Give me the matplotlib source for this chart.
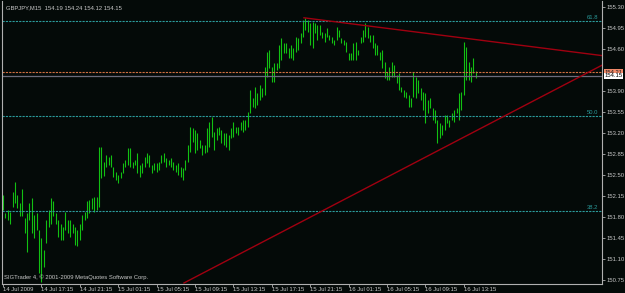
import pandas as pd
import matplotlib
matplotlib.use('Agg')
import matplotlib.pyplot as plt

# GBPJPY M15, bar chart as shown by the terminal
symbol = 'GBPJPY,M15'
last_ohlc = [154.19, 154.24, 154.12, 154.15]
ask = 154.21
first_bar = '2009-07-14 13:15'

highs = [
    152.17, 151.86, 151.92, 151.89, 152.22, 152.39, 152.17, 152.03, 152.26, 151.78,
    151.86, 152.03, 152.11, 151.83, 151.86, 151.58, 151.45, 151.25, 151.75, 151.92,
    152.11, 152.06, 151.86, 151.75, 151.69, 151.64, 151.89, 151.75, 151.75, 151.69,
    151.64, 151.58, 151.69, 151.83, 151.89, 152.06, 152.08, 152.11, 152.14, 152.14,
    152.97, 152.97, 152.72, 152.83, 152.80, 152.83, 152.63, 152.55, 152.50, 152.55,
    152.70, 152.75, 152.95, 152.95, 152.72, 152.75, 152.87, 152.67, 152.70, 152.80,
    152.87, 152.83, 152.67, 152.70, 152.70, 152.72, 152.83, 152.87, 152.78, 152.75,
    152.78, 152.72, 152.67, 152.70, 152.63, 152.62, 152.75, 153.00, 153.30, 153.28,
    153.25, 153.20, 153.08, 153.00, 153.00, 153.28, 153.38, 153.47, 153.22, 153.28,
    153.30, 153.25, 153.20, 153.20, 153.17, 153.28, 153.38, 153.30, 153.30, 153.38,
    153.42, 153.42, 153.55, 153.92, 153.78, 153.97, 153.87, 154.00, 153.95, 154.30,
    154.55, 154.58, 154.30, 154.37, 154.37, 154.67, 154.78, 154.70, 154.70, 154.62,
    154.67, 154.62, 154.80, 154.78, 154.87, 155.08, 155.12, 155.08, 155.03, 155.05,
    155.03, 155.00, 155.00, 154.88, 154.87, 154.95, 154.83, 154.80, 154.75, 154.97,
    154.92, 154.78, 154.75, 154.72, 154.53, 154.53, 154.70, 154.72, 154.58, 154.80,
    154.92, 155.03, 154.97, 154.83, 154.83, 154.70, 154.67, 154.55, 154.58,
    154.38, 154.22, 154.30, 154.38, 154.33, 154.17, 154.20, 153.97, 153.92, 153.88,
    153.83, 153.78, 154.22, 154.13, 154.08, 153.95, 153.88, 153.87, 153.75, 153.78,
    153.62, 153.58, 153.42, 153.37, 153.33, 153.50, 153.50, 153.42, 153.53, 153.58,
    153.62, 153.87, 153.88, 154.72, 154.63, 154.38, 154.30, 154.45, 154.24,
]
lows = [
    151.92, 151.78, 151.75, 151.69, 151.97, 152.03, 151.95, 151.81, 151.81, 151.53,
    151.22, 151.75, 151.53, 151.45, 151.58, 150.86, 150.72, 150.97, 151.36, 151.64,
    151.69, 151.81, 151.69, 151.47, 151.42, 151.42, 151.58, 151.53, 151.47, 151.53,
    151.33, 151.31, 151.42, 151.58, 151.75, 151.78, 151.86, 151.94, 151.89, 151.92,
    151.97, 152.45, 152.48, 152.63, 152.67, 152.63, 152.47, 152.42, 152.37, 152.45,
    152.53, 152.63, 152.67, 152.63, 152.62, 152.67, 152.53, 152.47, 152.53, 152.63,
    152.70, 152.63, 152.53, 152.58, 152.55, 152.58, 152.70, 152.72, 152.63, 152.67,
    152.63, 152.58, 152.55, 152.50, 152.47, 152.42, 152.58, 152.72, 152.88, 153.05,
    152.87, 152.92, 152.95, 152.83, 152.87, 152.88, 152.97, 153.13, 152.92, 153.08,
    153.17, 153.03, 153.00, 152.97, 152.92, 153.12, 153.13, 153.20, 153.17, 153.25,
    153.22, 153.25, 153.30, 153.53, 153.63, 153.62, 153.67, 153.75, 153.80, 153.83,
    154.13, 154.28, 154.05, 154.05, 154.25, 154.28, 154.42, 154.53, 154.53, 154.45,
    154.45, 154.42, 154.55, 154.58, 154.70, 154.80, 154.92, 154.88, 154.67, 154.62,
    154.87, 154.75, 154.83, 154.78, 154.72, 154.80, 154.75, 154.70, 154.67, 154.75,
    154.80, 154.70, 154.67, 154.55, 154.42, 154.42, 154.42, 154.42, 154.50, 154.70,
    154.72, 154.80, 154.78, 154.72, 154.62, 154.50, 154.50, 154.42, 154.28,
    154.12, 154.08, 154.08, 154.13, 154.13, 154.03, 153.92, 153.88, 153.80, 153.78,
    153.63, 153.63, 153.80, 153.78, 153.87, 153.75, 153.58, 153.37, 153.53, 153.62,
    153.42, 153.37, 153.03, 153.12, 153.17, 153.25, 153.37, 153.30, 153.42, 153.38,
    153.53, 153.42, 153.58, 153.83, 154.08, 154.08, 154.05, 154.20, 154.12,
]

fib_levels = ['61.8', '50.0', '38.2']
fib_prices = [155.07, 153.48, 151.90]

# trend lines: (bar index, price) anchors
upper_line = [(125.4, 155.12), (249.6, 154.49)]
lower_line = [(75.4, 150.70), (249.6, 154.33)]

price_ticks = [155.30, 154.95, 154.60, 153.90, 153.55, 153.20, 152.85,
               152.50, 152.15, 151.80, 151.45, 151.10, 150.75]

bg = '#040a08'
fg = '#c8c8c8'
fib_col = '#2a9a9a'
font = ['Liberation Sans', 'DejaVu Sans']
fs = 4.2

times = pd.date_range(first_bar, periods=len(highs), freq='15min')
idx = list(range(len(highs)))

fig = plt.figure(figsize=(6.25, 2.93), dpi=100, facecolor=bg)
ax = fig.add_axes([2 / 625, 9 / 293, 600 / 625, 283 / 293], facecolor=bg)

ax.vlines(idx, lows, highs, color='#12c012', lw=0.8)

for lvl, p in zip(fib_levels, fib_prices):
    ax.axhline(p, color=fib_col, lw=0.8, ls=(0, (2, 1)))
    ax.text(0.993, p + 0.015, lvl, transform=ax.get_yaxis_transform(),
            ha='right', va='bottom', color=fib_col, fontsize=fs, family=font)

ax.axhline(last_ohlc[3], color='#6c6c7c', lw=0.9)
ax.axhline(ask, color='#d07040', lw=0.8, ls=(0, (2, 1)))

for line in (upper_line, lower_line):
    xs = [pt[0] for pt in line]
    ys = [pt[1] for pt in line]
    ax.plot(xs, ys, color='#a00010', lw=1.0, clip_on=True)

ax.set_xlim(-0.42, 249.6)
ax.set_ylim(150.683, 155.40)

# axes styling
for side in ('left', 'bottom', 'right'):
    ax.spines[side].set_color('#b0b0b0')
    ax.spines[side].set_linewidth(0.8)
ax.spines['top'].set_visible(False)

ax.yaxis.tick_right()
ax.set_yticks(price_ticks)
ax.set_yticklabels([f'{p:.2f}' for p in price_ticks], family=font, fontsize=fs, color=fg)
ax.tick_params(axis='y', direction='out', length=2, width=0.6, color='#b0b0b0', pad=1.5)

xt = idx[::16]
xl = [times[0].strftime('%d %b %Y')] + [times[i].strftime('%d %b %H:%M') for i in xt[1:]]
ax.set_xticks(xt)
ax.set_xticklabels(xl, family=font, fontsize=fs, color=fg, ha='left')
ax.tick_params(axis='x', direction='out', length=2, width=0.6, color='#b0b0b0', pad=0.5)

# price boxes at the right edge
ax.text(1.004, ask, f'{ask:.2f}', transform=ax.get_yaxis_transform(), ha='left', va='center',
        fontsize=fs, family=font, color='#202020',
        bbox=dict(boxstyle='square,pad=0.12', fc='#f08a6a', ec='none'))
ax.text(1.004, last_ohlc[3], f'{last_ohlc[3]:.2f}', transform=ax.get_yaxis_transform(),
        ha='left', va='center', fontsize=fs, family=font, color='#000000',
        bbox=dict(boxstyle='square,pad=0.12', fc='#ffffff', ec='none'))

head = symbol + '  ' + ' '.join(f'{v:.2f}' for v in last_ohlc)
ax.text(0.006, 0.975, head, transform=ax.transAxes, ha='left', va='center',
        fontsize=fs, family=font, color=fg)
ax.text(0.003, 0.025, 'SIGTrader 4, \u00a9 2001-2009 MetaQuotes Software Corp.',
        transform=ax.transAxes, ha='left', va='center', fontsize=fs, family=font, color=fg)

fig.savefig('out.png', dpi=100, facecolor=bg)
